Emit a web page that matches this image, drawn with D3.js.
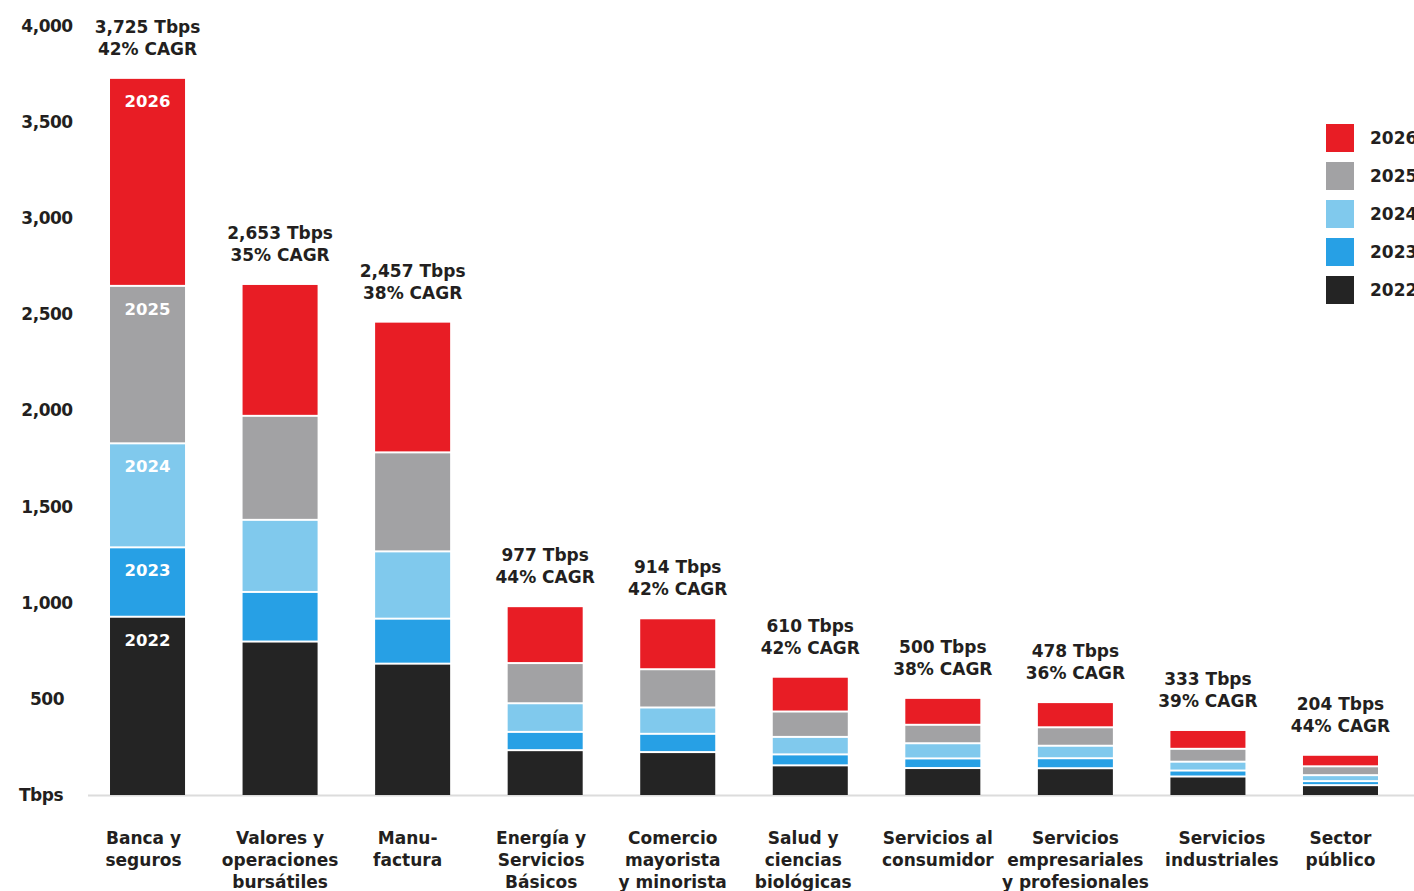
<!DOCTYPE html>
<html lang="es">
<head>
<meta charset="utf-8">
<script src="https://cdn.jsdelivr.net/npm/d3@7"></script>
<style>
  html, body { margin: 0; padding: 0; background: #fff; overflow: hidden; }
  svg { display: block; }
  text { font-family: "DejaVu Sans", sans-serif; font-weight: bold; }
</style>
</head>
<body>
<svg id="chart" width="1414" height="891"></svg>
<script>
// Sector labels (one entry per line of text)
const categories = [
  ["Banca y", "seguros"],
  ["Valores y", "operaciones", "bursátiles"],
  ["Manu-", "factura"],
  ["Energía y", "Servicios", "Básicos"],
  ["Comercio", "mayorista", "y minorista"],
  ["Salud y", "ciencias", "biológicas"],
  ["Servicios al", "consumidor"],
  ["Servicios", "empresariales", "y profesionales"],
  ["Servicios", "industriales"],
  ["Sector", "público"]
];

const years = ["2022", "2023", "2024", "2025", "2026"];

// Interconnection bandwidth per year, Tbps
const v2022 = [922, 793, 678, 228, 218, 149, 135, 134, 91, 46];
const v2023 = [361, 258, 234,  95,  95,  57,  50,  52, 31, 21];
const v2024 = [541, 375, 350, 149, 137,  91,  79,  65, 46, 31];
const v2025 = [819, 541, 515, 209, 199, 132,  96,  96, 67, 46];
const v2026 = [1082, 686, 680, 296, 265, 181, 140, 131, 98, 60];

// Compound annual growth rate 2022–2026, %
const cagr = [42, 35, 38, 44, 42, 42, 38, 36, 39, 44];

const yTicks = [0, 500, 1000, 1500, 2000, 2500, 3000, 3500, 4000];

// Horizontal nudges for the sector labels so neighbouring long names do not collide
const labelNudge = [-4, 0, -5, -4, -5, -7, -5, 0, 14, 0];

const colors = {
  "2022": "#242424",
  "2023": "#27a0e5",
  "2024": "#80c9ed",
  "2025": "#a2a2a4",
  "2026": "#e81d25"
};

const seriesValues = { "2022": v2022, "2023": v2023, "2024": v2024, "2025": v2025, "2026": v2026 };
const rows = categories.map((c, i) => {
  const r = { idx: i };
  years.forEach(y => { r[y] = seriesValues[y][i]; });
  return r;
});

const svg = d3.select("#chart");
const ink = "#231f20";

const x = d3.scaleBand()
  .domain(d3.range(categories.length))
  .range([81.25, 1406.75])
  .paddingInner(0.434)
  .paddingOuter(0.217);

const y = d3.scaleLinear().domain([0, 4000]).range([795, 26]);

// Baseline
svg.append("line")
  .attr("x1", 88).attr("x2", 1414)
  .attr("y1", y(0) + 0.5).attr("y2", y(0) + 0.5)
  .attr("stroke", "#dcdcdc").attr("stroke-width", 2);

// Y axis labels
const yAxis = d3.axisLeft(y)
  .tickValues(yTicks)
  .tickSize(0)
  .tickFormat(d => d === 0 ? "Tbps" : d3.format(",")(d));

const gy = svg.append("g").attr("transform", "translate(47,0)").call(yAxis);
gy.select(".domain").remove();
gy.selectAll("text")
  .attr("x", 0)
  .attr("text-anchor", "middle")
  .attr("fill", ink)
  .style("font-size", "17px")
  .style("font-family", "'DejaVu Sans', sans-serif")
  .style("font-weight", "bold")
  .style("letter-spacing", "-0.5px");
gy.selectAll(".tick").filter(d => d === 0).select("text").attr("x", -6);

// Stacked bars
const stack = d3.stack().keys(years);
const layers = stack(rows);
const gap = 2;

const gBars = svg.append("g");
layers.forEach((layer, li) => {
  gBars.append("g")
    .attr("fill", colors[layer.key])
    .selectAll("rect")
    .data(layer)
    .join("rect")
    .attr("x", d => x(d.data.idx))
    .attr("width", x.bandwidth())
    .attr("y", d => y(d[1]))
    .attr("height", d => Math.max(0, y(d[0]) - y(d[1]) - (li === 0 ? 0 : gap)));
});

// Year labels inside the first bar
layers.forEach(layer => {
  const d = layer[0];
  svg.append("text")
    .attr("x", x(0) + x.bandwidth() / 2)
    .attr("y", y(d[1]) + 22)
    .attr("dy", "0.35em")
    .attr("text-anchor", "middle")
    .attr("fill", "#fff")
    .style("font-size", "16.5px")
    .text(layer.key);
});

// Totals and CAGR above each bar
const fmt = d3.format(",");
rows.forEach((r, i) => {
  const total = d3.sum(years, k => r[k]);
  const cx = x(i) + x.bandwidth() / 2;
  const top = y(total);
  svg.append("text")
    .attr("x", cx).attr("y", top - 52).attr("dy", "0.35em")
    .attr("text-anchor", "middle").attr("fill", ink)
    .style("font-size", "17px")
    .text(`${fmt(total)} Tbps`);
  svg.append("text")
    .attr("x", cx).attr("y", top - 30).attr("dy", "0.35em")
    .attr("text-anchor", "middle").attr("fill", ink)
    .style("font-size", "17px")
    .text(`${cagr[i]}% CAGR`);
});

// Category labels under the axis
categories.forEach((lines, i) => {
  const t = svg.append("text")
    .attr("text-anchor", "middle")
    .attr("fill", ink)
    .style("font-size", "17px");
  lines.forEach((ln, j) => {
    t.append("tspan")
      .attr("x", x(i) + x.bandwidth() / 2 + labelNudge[i])
      .attr("y", 838 + j * 22)
      .attr("dy", "0.35em")
      .text(ln);
  });
});

// Legend, newest year on top
const legend = svg.append("g").attr("transform", "translate(1326,124)");
years.slice().reverse().forEach((yr, i) => {
  const g = legend.append("g").attr("transform", `translate(0,${i * 38})`);
  g.append("rect").attr("width", 28).attr("height", 28).attr("fill", colors[yr]);
  g.append("text")
    .attr("x", 44).attr("y", 14).attr("dy", "0.35em")
    .attr("fill", ink)
    .style("font-size", "17px")
    .text(yr);
});
</script>
</body>
</html>
